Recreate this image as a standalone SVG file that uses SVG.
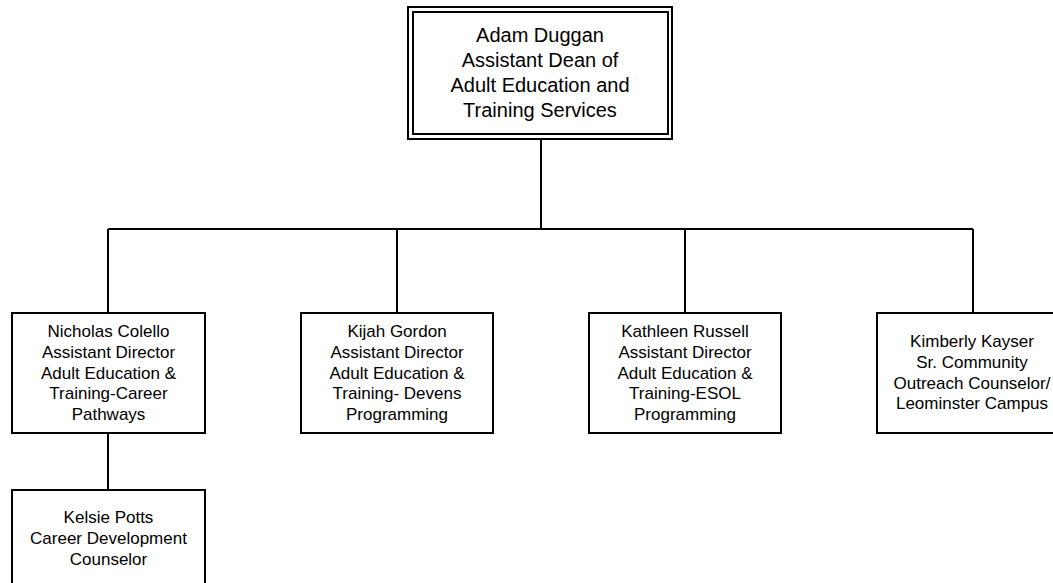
<svg xmlns="http://www.w3.org/2000/svg" width="1053" height="583" viewBox="0 0 1053 583">
<style>
.box{fill:#fff;stroke:#000;stroke-width:2}
.t{font-family:"Liberation Sans",Arial,sans-serif;font-size:17px;fill:#000;text-anchor:middle}
.tt{font-family:"Liberation Sans",Arial,sans-serif;font-size:20px;fill:#000;text-anchor:middle}
.c{fill:none;stroke:#000;stroke-width:2}
</style>
<rect width="1053" height="583" fill="#fff"/>
<g id="connectors">
<path class="c" d="M541,139 V229 M108,229 H973 M108,229 V313 M397,229 V313 M685,229 V313 M973,229 V313 M108,433 V490"/>
</g>
<g id="adam">
<rect class="box" x="408" y="7" width="264" height="132"/>
<rect class="box" x="413" y="12" width="255" height="122"/>
<text class="tt" x="540" y="42">Adam Duggan</text>
<text class="tt" x="540" y="67">Assistant Dean of</text>
<text class="tt" x="540" y="92">Adult Education and</text>
<text class="tt" x="540" y="117">Training Services</text>
</g>
<g id="nicholas">
<rect class="box" x="12" y="313" width="193" height="120"/>
<text class="t" x="108.5" y="337">Nicholas Colello</text>
<text class="t" x="108.5" y="358">Assistant Director</text>
<text class="t" x="108.5" y="379">Adult Education &amp;</text>
<text class="t" x="108.5" y="399">Training-Career</text>
<text class="t" x="108.5" y="420">Pathways</text>
</g>
<g id="kijah">
<rect class="box" x="301" y="313" width="192" height="120"/>
<text class="t" x="397" y="337">Kijah Gordon</text>
<text class="t" x="397" y="358">Assistant Director</text>
<text class="t" x="397" y="379">Adult Education &amp;</text>
<text class="t" x="397" y="399">Training- Devens</text>
<text class="t" x="397" y="420">Programming</text>
</g>
<g id="kathleen">
<rect class="box" x="589" y="313" width="192" height="120"/>
<text class="t" x="685" y="337">Kathleen Russell</text>
<text class="t" x="685" y="358">Assistant Director</text>
<text class="t" x="685" y="379">Adult Education &amp;</text>
<text class="t" x="685" y="399">Training-ESOL</text>
<text class="t" x="685" y="420">Programming</text>
</g>
<g id="kimberly">
<rect class="box" x="877" y="313" width="192" height="120"/>
<text class="t" x="972" y="347">Kimberly Kayser</text>
<text class="t" x="972" y="368">Sr. Community</text>
<text class="t" x="972" y="389">Outreach Counselor/</text>
<text class="t" x="972" y="409">Leominster Campus</text>
</g>
<g id="kelsie">
<rect class="box" x="12" y="490" width="193" height="120"/>
<text class="t" x="108.5" y="523">Kelsie Potts</text>
<text class="t" x="108.5" y="544">Career Development</text>
<text class="t" x="108.5" y="565">Counselor</text>
</g>
</svg>
